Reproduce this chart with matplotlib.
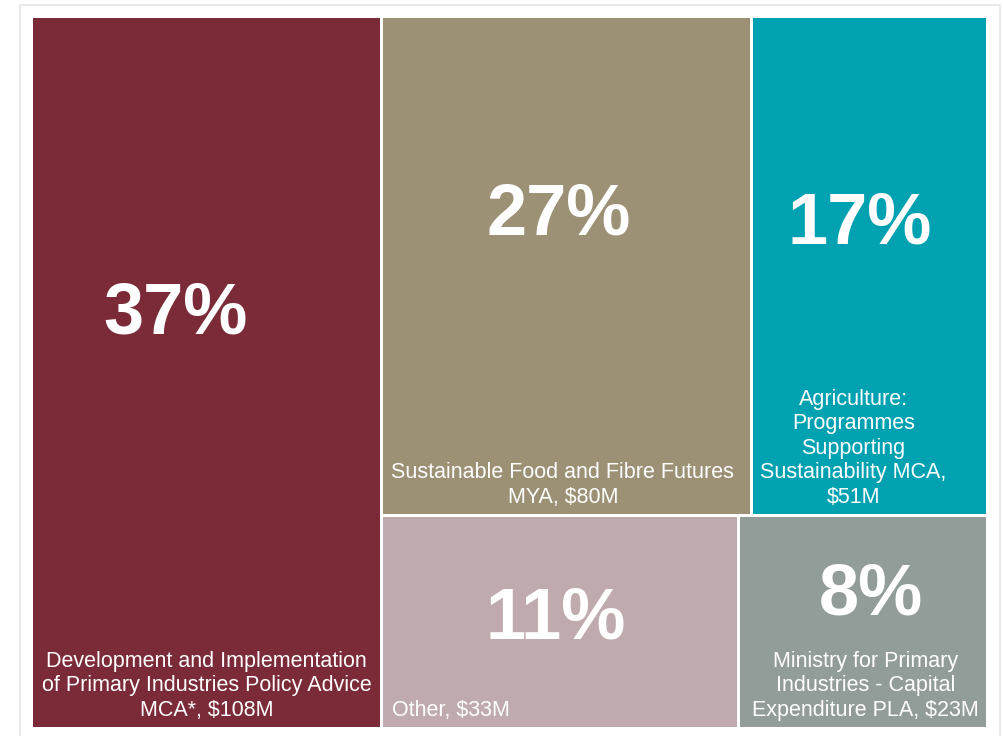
import matplotlib
matplotlib.use("Agg")
import matplotlib.pyplot as plt
from matplotlib.patches import Rectangle

plt.rcParams["font.family"] = ["Liberation Sans", "DejaVu Sans"]

# funding by appropriation, $M
names = [
    "Development and Implementation\nof Primary Industries Policy Advice\nMCA*",
    "Sustainable Food and Fibre Futures\nMYA",
    "Agriculture:\nProgrammes\nSupporting\nSustainability MCA,\n",
    "Other",
    "Ministry for Primary\nIndustries - Capital\nExpenditure PLA",
]
amounts = [108, 80, 51, 33, 23]
colors = ["#7b2a38", "#9c9075", "#00a1b0", "#bfabad", "#929c98"]

# where the big percentage sits inside each box (fraction of box width / height)
pct_pos = [(0.41, 0.418), (0.478, 0.399), (0.457, 0.417), (0.487, 0.489), (0.53, 0.375)]
# label anchor x (fraction of width) and alignment
lab_pos = [(0.5, "center"), (0.49, "center"), (0.43, "center"), (None, "left"), (0.51, "center")]

W, H = 956.0, 712.0
gap = 3.0
total = float(sum(amounts))

# slice the area: first item is a full-height column, the rest split in two rows
rects = []
w0 = W * amounts[0] / total
rects.append((0.0, 0.0, w0, H))
rest = total - amounts[0]
row_h = H * (amounts[1] + amounts[2]) / rest
for i, (a, b) in enumerate([(1, 2), (3, 4)]):
    y = 0.0 if i == 0 else row_h
    h = row_h if i == 0 else H - row_h
    wa = (W - w0) * amounts[a] / (amounts[a] + amounts[b])
    rects.append((w0, y, wa, h))
    rects.append((w0 + wa, y, W - w0 - wa, h))

fig = plt.figure(figsize=(10.04, 7.36), dpi=100)
ax = fig.add_axes([31.5 / 1004, 1 - 728.5 / 736, 956 / 1004, 712 / 736])
ax.set_xlim(0, W)
ax.set_ylim(H, 0)
ax.axis("off")

for i, (x, y, w, h) in enumerate(rects):
    x0, y0 = x + gap / 2, y + gap / 2
    w1, h1 = w - gap, h - gap
    ax.add_patch(Rectangle((x0, y0), w1, h1, facecolor=colors[i], edgecolor="none"))

    pct = round(100 * amounts[i] / total)
    px, py = pct_pos[i]
    ax.text(x0 + px * w1, y0 + py * h1, "%d%%" % pct, color="white",
            fontsize=52, fontweight="bold", ha="center", va="center")

    label = names[i]
    if label.endswith("\n"):
        label = label + "$%dM" % amounts[i]
    else:
        label = label + ", $%dM" % amounts[i]
    lx, ha = lab_pos[i]
    tx = x0 + 9 if lx is None else x0 + lx * w1
    ax.text(tx, y0 + h1 - 6, label.replace("$", r"\$"), color="white",
            fontsize=15.5, ha=ha, va="bottom", multialignment="center",
            linespacing=1.22)

# light frame around the chart
fig.add_artist(Rectangle((20 / 1004, -0.05), 980 / 1004, 1.05 - 5 / 736,
                         transform=fig.transFigure, facecolor="none",
                         edgecolor="#e6e6e6", linewidth=1.2))

fig.savefig("out.png", dpi=100, facecolor="white")
